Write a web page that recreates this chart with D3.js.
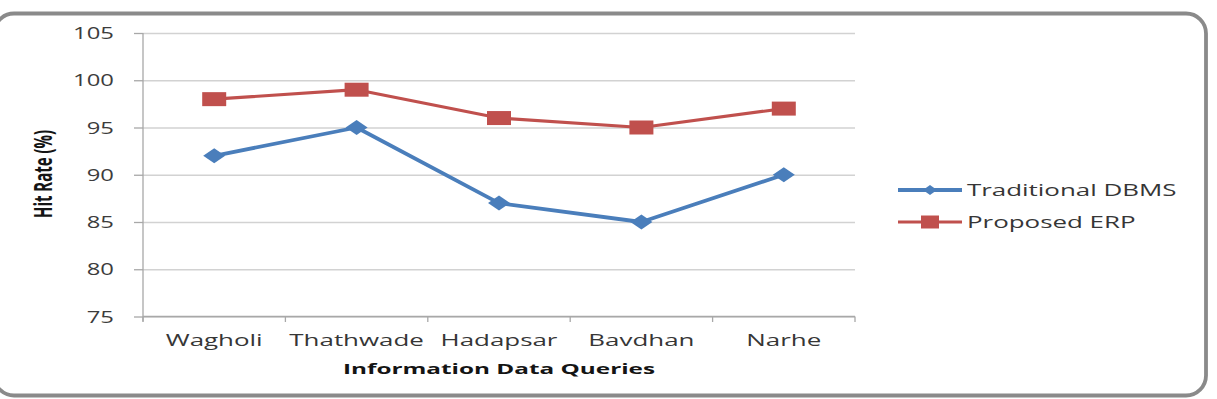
<!DOCTYPE html>
<html>
<head>
<meta charset="utf-8">
<script src="https://cdn.jsdelivr.net/npm/d3@7"></script>
<style>
  html, body { margin: 0; padding: 0; background: #ffffff; }
  svg { display: block; }
</style>
</head>
<body>
<svg id="chart" width="1217" height="399"></svg>
<script>
const categories = ["Wagholi", "Thathwade", "Hadapsar", "Bavdhan", "Narhe"];
const traditionalDBMS = [92, 95, 87, 85, 90];
const proposedERP = [98, 99, 96, 95, 97];
const yTicks = [75, 80, 85, 90, 95, 100, 105];
const seriesNames = ["Traditional DBMS", "Proposed ERP"];
const xTitle = "Information Data Queries";
const yTitle = "Hit Rate (%)";

const plot = { left: 143, right: 855, top: 33, bottom: 316.5 };
const FONT = "'Open Sans', sans-serif";
const SX = 1.62; // horizontal stretch of the original picture

const svg = d3.select("#chart");

// outer rounded frame
svg.append("rect")
  .attr("x", -6).attr("y", 13.5)
  .attr("width", 1212).attr("height", 382)
  .attr("rx", 20).attr("ry", 20)
  .attr("fill", "#ffffff")
  .attr("stroke", "#8a8a8a")
  .attr("stroke-width", 3.8);

const x = d3.scaleBand().domain(categories).range([plot.left, plot.right]);
const y = d3.scaleLinear().domain([75, 105]).range([plot.bottom, plot.top]);

// gridlines
svg.append("g")
  .attr("transform", `translate(${plot.left},0)`)
  .call(d3.axisLeft(y).tickValues(yTicks).tickSize(-(plot.right - plot.left)).tickFormat(""))
  .call(g => g.select(".domain").remove())
  .call(g => g.selectAll("line").attr("stroke", "#d2d2d2").attr("stroke-width", 1.3));

// left axis
const yAxisG = svg.append("g")
  .attr("transform", `translate(${plot.left},0)`)
  .call(d3.axisLeft(y).tickValues(yTicks).tickSize(9).tickPadding(29).tickSizeOuter(0));
yAxisG.select(".domain").attr("stroke", "#a8a8a8").attr("stroke-width", 1.3)
  .attr("d", `M0,${plot.top}V${plot.bottom + 5}`);
yAxisG.selectAll("line").attr("stroke", "#a8a8a8").attr("stroke-width", 1.3);
yAxisG.selectAll("text")
  .attr("font-family", FONT).attr("font-size", 15.5).attr("fill", "#3c3c3c")
  .attr("text-anchor", "end").attr("dy", "0.36em")
  .attr("x", null)
  .attr("transform", function() { return `translate(-29,0) scale(${SX * 0.95},1)`; });

// bottom axis line and boundary ticks
const bottomG = svg.append("g").attr("transform", `translate(0,${plot.bottom})`);
bottomG.append("line")
  .attr("x1", plot.left).attr("x2", plot.right)
  .attr("stroke", "#a8a8a8").attr("stroke-width", 1.3);
const boundaries = categories.map(c => x(c)).concat([x(categories[categories.length - 1]) + x.bandwidth()]);
bottomG.selectAll("line.bt").data(boundaries).join("line")
  .attr("class", "bt")
  .attr("x1", d => d).attr("x2", d => d)
  .attr("y1", 0).attr("y2", 5.5)
  .attr("stroke", "#a8a8a8").attr("stroke-width", 1.3);

// category labels
bottomG.selectAll("text.cat").data(categories).join("text")
  .attr("class", "cat")
  .attr("transform", d => `translate(${x(d) + x.bandwidth() / 2},29.5) scale(${SX},1)`)
  .attr("text-anchor", "middle")
  .attr("font-family", FONT).attr("font-size", 16).attr("fill", "#363636")
  .text(d => d);

// axis titles
svg.append("text")
  .attr("transform", `translate(${(plot.left + plot.right) / 2},373.5) scale(${SX},1)`)
  .attr("text-anchor", "middle")
  .attr("font-family", FONT).attr("font-size", 15).attr("font-weight", "bold").attr("fill", "#141414")
  .text(xTitle);

svg.append("text")
  .attr("transform", `translate(52,174) rotate(-90) scale(1,${SX})`)
  .attr("text-anchor", "middle")
  .attr("font-family", FONT)
  .attr("font-size", 15).attr("font-weight", "bold").attr("fill", "#141414")
  .attr("textLength", 88).attr("lengthAdjust", "spacingAndGlyphs")
  .text(yTitle);

// series
const series = [
  { name: seriesNames[0], values: traditionalDBMS, color: "#4a7ebb", marker: "diamond", width: 3.8 },
  { name: seriesNames[1], values: proposedERP, color: "#c0504d", marker: "square", width: 3.2 }
];

const line = d3.line()
  .x((d, i) => x(categories[i]) + x.bandwidth() / 2)
  .y(d => y(d));

function markerPath(type, w, h) {
  if (type === "diamond") {
    return `M${-w / 2},0L0,${-h / 2}L${w / 2},0L0,${h / 2}Z`;
  }
  return `M${-w / 2},${-h / 2}H${w / 2}V${h / 2}H${-w / 2}Z`;
}

series.forEach(s => {
  svg.append("path")
    .datum(s.values)
    .attr("d", line)
    .attr("fill", "none")
    .attr("stroke", s.color)
    .attr("stroke-width", s.width)
    .attr("stroke-linejoin", "round");
  svg.selectAll(null).data(s.values).join("path")
    .attr("transform", (d, i) => `translate(${x(categories[i]) + x.bandwidth() / 2},${y(d)})`)
    .attr("d", s.marker === "diamond" ? markerPath("diamond", 22, 15) : markerPath("square", 24, 14))
    .attr("fill", s.color);
});

// legend
const legend = svg.append("g");
series.forEach((s, i) => {
  const ly = 190 + i * 32;
  legend.append("line")
    .attr("x1", 898).attr("x2", 962).attr("y1", ly).attr("y2", ly)
    .attr("stroke", s.color).attr("stroke-width", s.width);
  legend.append("path")
    .attr("transform", `translate(930,${ly})`)
    .attr("d", s.marker === "diamond" ? markerPath("diamond", 14, 10) : markerPath("square", 18, 13))
    .attr("fill", s.color);
  legend.append("text")
    .attr("transform", `translate(967,${ly}) scale(${SX},1)`)
    .attr("dy", "0.36em")
    .attr("font-family", FONT).attr("font-size", 16).attr("fill", "#363636")
    .text(s.name);
});
</script>
</body>
</html>
